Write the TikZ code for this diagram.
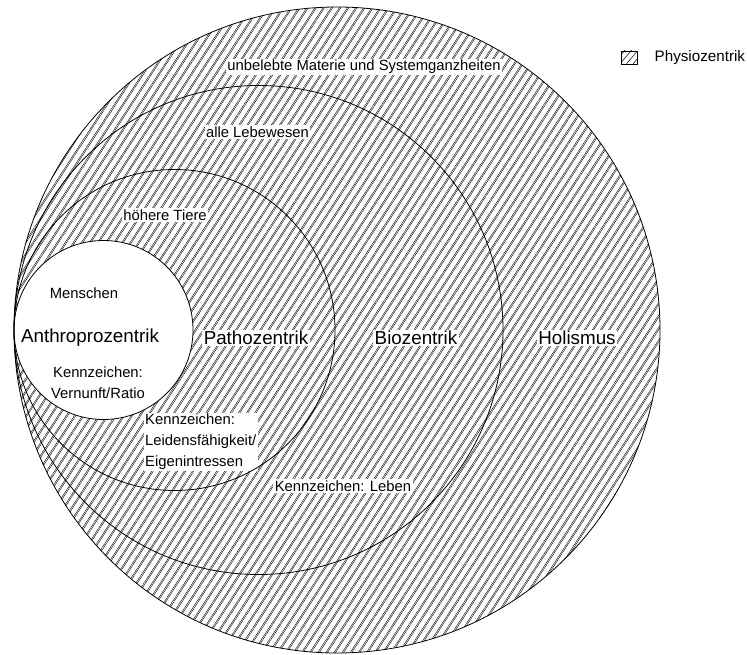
\documentclass[tikz,border=0pt]{standalone}
\usepackage{fontspec}
\setmainfont{Liberation Sans}
\usetikzlibrary{patterns.meta}
\begin{document}
\begin{tikzpicture}[x=1pt,y=-1pt,
  ring/.style={draw=black,line width=0.8pt},
  lbl/.style={fill=white,inner sep=1.5pt,font=\fontsize{14.8}{21}\selectfont},
  big/.style={fill=white,inner sep=1.5pt,font=\fontsize{18.8}{22}\selectfont},
  hatchA/.style={pattern={Lines[angle=57,distance=6.8pt,line width=0.4pt]}},
  hatchB/.style={pattern={Lines[angle=57,distance=6.8pt,line width=0.4pt,xshift=1.5pt]}},
  hatchL/.style={pattern={Lines[angle=50,distance=5pt,line width=0.5pt]}}]
\useasboundingbox (0,0) rectangle (747,655);
% centres
\coordinate (cO) at (337,330);
\coordinate (cB) at (258.5,330);
\coordinate (cP) at (174.5,330);
\coordinate (cA) at (103.5,330);
% hatching
\path[hatchA] (cO) circle[radius=323];
\path[hatchB] (cO) circle[radius=323];
\fill[white] (cA) circle[radius=89.5];
% labels
\node[lbl] (unbelebt) at (364,67) {unbelebte Materie und Systemganzheiten};
\node[lbl] (lebewesen) at (257.5,132) {alle Lebewesen};
\node[lbl] (tiere) at (165,215) {höhere Tiere};
\node[lbl] (menschen) at (84,293) {Menschen};
\node[big] (anthro) at (90,338) {Anthroprozentrik};
\node[lbl,align=center] (vernunft) at (98,383) {Kennzeichen:\\Vernunft/Ratio};
\node[big] (patho) at (256,338) {Pathozentrik};
\node[lbl,align=left,anchor=west] (leiden) at (143.5,442) {Kennzeichen:\\Leidensfähigkeit/\\Eigenintressen};
\node[lbl] (leben) at (343,486) {Kennzeichen: Leben};
\node[big] (bio) at (416,338) {Biozentrik};
\node[big] (holismus) at (577,338) {Holismus};
% circles
\draw[ring] (cO) circle[radius=323];
\draw[ring] (cB) circle[radius=244.5];
\draw[ring] (cP) circle[radius=160.5];
\draw[ring] (cA) circle[radius=89.5];
% legend
\path[hatchL] (621,51) rectangle (637,64);
\draw[line width=0.7pt] (621,51) rectangle (637,64);
\node[font=\fontsize{15.2}{18}\selectfont,anchor=west,inner sep=1.5pt] (legend) at (653,58) {Physiozentrik};
\end{tikzpicture}
\end{document}
